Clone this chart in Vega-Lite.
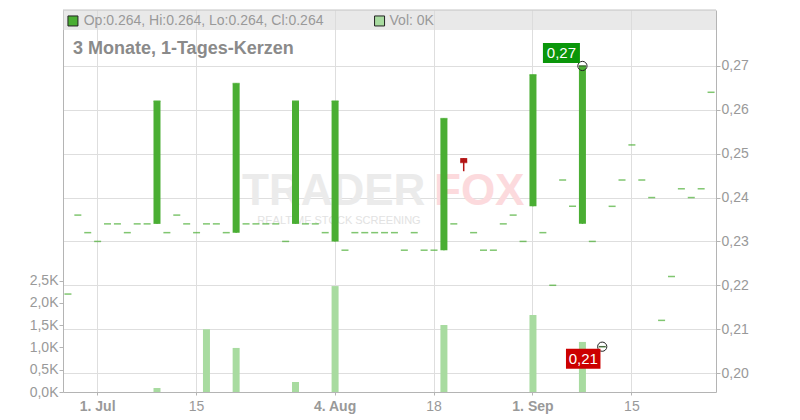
{
  "$schema": "https://vega.github.io/schema/vega-lite/v6.json",
  "width": 653,
  "height": 382,
  "autosize": {"type": "none"},
  "padding": {"left": 63, "top": 10, "right": 84, "bottom": 28},
  "background": "white",
  "config": {
    "view": {"stroke": null},
    "font": "Liberation Sans",
    "axis": {"labelColor": "#999999", "labelFontSize": 14, "labelFont": "Liberation Sans", "domainColor": "#b4b4b4", "tickColor": "#b4b4b4", "gridColor": "#dedede", "title": null}
  },
  "datasets": {
    "candles": [
      {"date": "2025-06-26", "open": 0.218, "high": 0.218, "low": 0.218, "close": 0.218, "volume": 0},
      {"date": "2025-06-27", "open": 0.236, "high": 0.236, "low": 0.236, "close": 0.236, "volume": 0},
      {"date": "2025-06-30", "open": 0.232, "high": 0.232, "low": 0.232, "close": 0.232, "volume": 0},
      {"date": "2025-07-01", "open": 0.230, "high": 0.230, "low": 0.230, "close": 0.230, "volume": 0},
      {"date": "2025-07-02", "open": 0.234, "high": 0.234, "low": 0.234, "close": 0.234, "volume": 0},
      {"date": "2025-07-03", "open": 0.234, "high": 0.234, "low": 0.234, "close": 0.234, "volume": 0},
      {"date": "2025-07-04", "open": 0.232, "high": 0.232, "low": 0.232, "close": 0.232, "volume": 0},
      {"date": "2025-07-07", "open": 0.234, "high": 0.234, "low": 0.234, "close": 0.234, "volume": 0},
      {"date": "2025-07-08", "open": 0.234, "high": 0.234, "low": 0.234, "close": 0.234, "volume": 0},
      {"date": "2025-07-09", "open": 0.234, "high": 0.262, "low": 0.234, "close": 0.262, "volume": 90},
      {"date": "2025-07-10", "open": 0.232, "high": 0.232, "low": 0.232, "close": 0.232, "volume": 0},
      {"date": "2025-07-11", "open": 0.236, "high": 0.236, "low": 0.236, "close": 0.236, "volume": 0},
      {"date": "2025-07-14", "open": 0.234, "high": 0.234, "low": 0.234, "close": 0.234, "volume": 0},
      {"date": "2025-07-15", "open": 0.232, "high": 0.232, "low": 0.232, "close": 0.232, "volume": 0},
      {"date": "2025-07-16", "open": 0.234, "high": 0.234, "low": 0.234, "close": 0.234, "volume": 1410},
      {"date": "2025-07-17", "open": 0.234, "high": 0.234, "low": 0.234, "close": 0.234, "volume": 0},
      {"date": "2025-07-18", "open": 0.232, "high": 0.232, "low": 0.232, "close": 0.232, "volume": 0},
      {"date": "2025-07-21", "open": 0.232, "high": 0.266, "low": 0.232, "close": 0.266, "volume": 990},
      {"date": "2025-07-22", "open": 0.234, "high": 0.234, "low": 0.234, "close": 0.234, "volume": 0},
      {"date": "2025-07-23", "open": 0.234, "high": 0.234, "low": 0.234, "close": 0.234, "volume": 0},
      {"date": "2025-07-24", "open": 0.234, "high": 0.234, "low": 0.234, "close": 0.234, "volume": 0},
      {"date": "2025-07-25", "open": 0.234, "high": 0.234, "low": 0.234, "close": 0.234, "volume": 0},
      {"date": "2025-07-28", "open": 0.230, "high": 0.230, "low": 0.230, "close": 0.230, "volume": 0},
      {"date": "2025-07-29", "open": 0.234, "high": 0.262, "low": 0.234, "close": 0.262, "volume": 225},
      {"date": "2025-07-30", "open": 0.234, "high": 0.234, "low": 0.234, "close": 0.234, "volume": 0},
      {"date": "2025-07-31", "open": 0.234, "high": 0.234, "low": 0.234, "close": 0.234, "volume": 0},
      {"date": "2025-08-01", "open": 0.232, "high": 0.232, "low": 0.232, "close": 0.232, "volume": 0},
      {"date": "2025-08-04", "open": 0.230, "high": 0.262, "low": 0.230, "close": 0.262, "volume": 2380},
      {"date": "2025-08-05", "open": 0.228, "high": 0.228, "low": 0.228, "close": 0.228, "volume": 0},
      {"date": "2025-08-06", "open": 0.232, "high": 0.232, "low": 0.232, "close": 0.232, "volume": 0},
      {"date": "2025-08-07", "open": 0.232, "high": 0.232, "low": 0.232, "close": 0.232, "volume": 0},
      {"date": "2025-08-08", "open": 0.232, "high": 0.232, "low": 0.232, "close": 0.232, "volume": 0},
      {"date": "2025-08-11", "open": 0.232, "high": 0.232, "low": 0.232, "close": 0.232, "volume": 0},
      {"date": "2025-08-12", "open": 0.232, "high": 0.232, "low": 0.232, "close": 0.232, "volume": 0},
      {"date": "2025-08-13", "open": 0.228, "high": 0.228, "low": 0.228, "close": 0.228, "volume": 0},
      {"date": "2025-08-14", "open": 0.232, "high": 0.232, "low": 0.232, "close": 0.232, "volume": 0},
      {"date": "2025-08-15", "open": 0.228, "high": 0.228, "low": 0.228, "close": 0.228, "volume": 0},
      {"date": "2025-08-18", "open": 0.228, "high": 0.228, "low": 0.228, "close": 0.228, "volume": 0},
      {"date": "2025-08-19", "open": 0.228, "high": 0.258, "low": 0.228, "close": 0.258, "volume": 1505},
      {"date": "2025-08-20", "open": 0.234, "high": 0.234, "low": 0.234, "close": 0.234, "volume": 0},
      {"date": "2025-08-21", "open": 0.249, "high": 0.249, "low": 0.246, "close": 0.248, "volume": 0},
      {"date": "2025-08-22", "open": 0.232, "high": 0.232, "low": 0.232, "close": 0.232, "volume": 0},
      {"date": "2025-08-25", "open": 0.228, "high": 0.228, "low": 0.228, "close": 0.228, "volume": 0},
      {"date": "2025-08-26", "open": 0.228, "high": 0.228, "low": 0.228, "close": 0.228, "volume": 0},
      {"date": "2025-08-27", "open": 0.234, "high": 0.234, "low": 0.234, "close": 0.234, "volume": 0},
      {"date": "2025-08-28", "open": 0.236, "high": 0.236, "low": 0.236, "close": 0.236, "volume": 0},
      {"date": "2025-08-29", "open": 0.230, "high": 0.230, "low": 0.230, "close": 0.230, "volume": 0},
      {"date": "2025-09-01", "open": 0.238, "high": 0.268, "low": 0.238, "close": 0.268, "volume": 1730},
      {"date": "2025-09-02", "open": 0.232, "high": 0.232, "low": 0.232, "close": 0.232, "volume": 0},
      {"date": "2025-09-03", "open": 0.220, "high": 0.220, "low": 0.220, "close": 0.220, "volume": 0},
      {"date": "2025-09-04", "open": 0.244, "high": 0.244, "low": 0.244, "close": 0.244, "volume": 0},
      {"date": "2025-09-05", "open": 0.238, "high": 0.238, "low": 0.238, "close": 0.238, "volume": 0},
      {"date": "2025-09-08", "open": 0.234, "high": 0.270, "low": 0.234, "close": 0.270, "volume": 1125},
      {"date": "2025-09-09", "open": 0.230, "high": 0.230, "low": 0.230, "close": 0.230, "volume": 0},
      {"date": "2025-09-10", "open": 0.206, "high": 0.206, "low": 0.206, "close": 0.206, "volume": 0},
      {"date": "2025-09-11", "open": 0.238, "high": 0.238, "low": 0.238, "close": 0.238, "volume": 0},
      {"date": "2025-09-12", "open": 0.244, "high": 0.244, "low": 0.244, "close": 0.244, "volume": 0},
      {"date": "2025-09-15", "open": 0.252, "high": 0.252, "low": 0.252, "close": 0.252, "volume": 0},
      {"date": "2025-09-16", "open": 0.244, "high": 0.244, "low": 0.244, "close": 0.244, "volume": 0},
      {"date": "2025-09-17", "open": 0.240, "high": 0.240, "low": 0.240, "close": 0.240, "volume": 0},
      {"date": "2025-09-18", "open": 0.212, "high": 0.212, "low": 0.212, "close": 0.212, "volume": 0},
      {"date": "2025-09-19", "open": 0.222, "high": 0.222, "low": 0.222, "close": 0.222, "volume": 0},
      {"date": "2025-09-22", "open": 0.242, "high": 0.242, "low": 0.242, "close": 0.242, "volume": 0},
      {"date": "2025-09-23", "open": 0.240, "high": 0.240, "low": 0.240, "close": 0.240, "volume": 0},
      {"date": "2025-09-24", "open": 0.242, "high": 0.242, "low": 0.242, "close": 0.242, "volume": 0},
      {"date": "2025-09-25", "open": 0.264, "high": 0.264, "low": 0.264, "close": 0.264, "volume": 0}
    ],
    "extremes": [
      {"date": "2025-09-08", "price": 0.270, "label": "0,27", "kind": "Hoch"},
      {"date": "2025-09-10", "price": 0.206, "label": "0,21", "kind": "Tief"}
    ],
    "one": [{}]
  },
  "layer": [
    {
      "data": {"name": "candles"},
      "mark": {"type": "bar", "width": 7, "color": "#a8dba0"},
      "encoding": {
        "x": {
          "field": "date", "type": "ordinal",
          "scale": {"type": "band", "paddingInner": 0, "paddingOuter": 0},
          "axis": {
            "values": ["2025-07-01", "2025-07-15", "2025-08-04", "2025-08-18", "2025-09-01", "2025-09-15"],
            "labelExpr": "{'2025-07-01': '1. Jul', '2025-07-15': '15', '2025-08-04': '4. Aug', '2025-08-18': '18', '2025-09-01': '1. Sep', '2025-09-15': '15'}[datum.value]",
            "labelFontWeight": {"condition": {"test": "indexof(['2025-07-01', '2025-08-04', '2025-09-01'], datum.value) >= 0", "value": "bold"}, "value": "normal"},
            "labelAngle": 0,
            "bandPosition": 0.5,
            "grid": true,
            "tickSize": 3,
            "labelPadding": 4,
            "title": null
          }
        },
        "y": {
          "field": "volume", "type": "quantitative",
          "scale": {"domain": [0, 8584], "nice": false},
          "axis": {
            "orient": "left",
            "values": [0, 500, 1000, 1500, 2000, 2500],
            "labelExpr": "replace(format(datum.value / 1000, '.1f'), '.', ',') + 'K'",
            "grid": false,
            "tickSize": 4,
            "labelPadding": 1,
            "title": null
          }
        }
      }
    },
    {
      "layer": [
        {
          "data": {"name": "one"},
          "mark": {"type": "rect", "color": "#dadada", "opacity": 0.6},
          "encoding": {
            "y": {"datum": 0.28276, "type": "quantitative", "scale": {"domain": [0.19567, 0.28276], "nice": false, "zero": false},
              "axis": {
                "orient": "right",
                "values": [0.20, 0.21, 0.22, 0.23, 0.24, 0.25, 0.26, 0.27],
                "labelExpr": "replace(format(datum.value, '.2f'), '.', ',')",
                "grid": true,
                "tickSize": 4,
                "labelPadding": 1,
                "title": null
              }
            },
            "y2": {"datum": 0.2782}
          }
        },
        {
          "data": {"name": "one"},
          "mark": {"type": "rule", "color": "#c4c4c4", "strokeWidth": 1},
          "encoding": {"y": {"datum": 0.28276, "type": "quantitative"}}
        },
        {
          "data": {"name": "one"},
          "mark": {"type": "text", "text": "TRADER", "font": "Liberation Sans", "fontWeight": "bold", "fontSize": 44, "align": "left", "baseline": "middle", "dx": -4, "color": "#ebebeb"},
          "encoding": {"x": {"datum": "2025-07-22", "type": "ordinal"}, "y": {"datum": 0.24127, "type": "quantitative"}}
        },
        {
          "data": {"name": "one"},
          "mark": {"type": "text", "text": "FOX", "font": "Liberation Sans", "fontWeight": "bold", "fontSize": 44, "align": "left", "baseline": "middle", "dx": 0, "color": "#fcdadd"},
          "encoding": {"x": {"datum": "2025-08-18", "type": "ordinal"}, "y": {"datum": 0.24127, "type": "quantitative"}}
        },
        {
          "data": {"name": "one"},
          "mark": {"type": "text", "text": "REALTIME STOCK SCREENING", "font": "Liberation Sans", "fontSize": 11, "align": "center", "baseline": "middle", "dx": -6, "color": "#e2e2e2"},
          "encoding": {"x": {"datum": "2025-08-05", "type": "ordinal"}, "y": {"datum": 0.23466, "type": "quantitative"}}
        },
        {
          "data": {"name": "candles"},
          "mark": {"type": "rule", "strokeWidth": 1.5},
          "encoding": {
            "x": {"field": "date", "type": "ordinal"},
            "y": {"field": "low", "type": "quantitative"},
            "y2": {"field": "high"},
            "color": {"condition": {"test": "datum.close < datum.open", "value": "#b31515"}, "value": "#4aae33"}
          }
        },
        {
          "data": {"name": "candles"},
          "mark": {"type": "bar", "width": 7},
          "encoding": {
            "x": {"field": "date", "type": "ordinal"},
            "y": {"field": "open", "type": "quantitative"},
            "y2": {"field": "close"},
            "color": {"condition": {"test": "datum.close < datum.open", "value": "#b31515"}, "value": "#4aae33"}
          }
        },
        {
          "data": {"name": "candles"},
          "mark": {"type": "tick", "size": 7, "thickness": 1.5},
          "encoding": {
            "x": {"field": "date", "type": "ordinal"},
            "y": {"field": "close", "type": "quantitative"},
            "color": {"condition": {"test": "datum.close < datum.open", "value": "#b31515"}, "value": "#4aae33"}
          }
        },
        {
          "data": {"name": "extremes"},
          "mark": {"type": "point", "shape": "circle", "size": 85, "filled": false, "stroke": "#222222", "strokeWidth": 1, "opacity": 1},
          "encoding": {
            "x": {"field": "date", "type": "ordinal"},
            "y": {"field": "price", "type": "quantitative"}
          }
        },
        {
          "data": {"name": "extremes"},
          "mark": {"type": "tick", "size": 7, "thickness": 1, "color": "#222222"},
          "encoding": {
            "x": {"field": "date", "type": "ordinal"},
            "y": {"field": "price", "type": "quantitative"}
          }
        },
        {
          "data": {"name": "extremes"},
          "transform": [{"filter": "datum.kind == 'Hoch'"}],
          "mark": {"type": "point", "shape": "M-1,-0.54L1,-0.54L1,0.54L-1,0.54Z", "size": 1369, "filled": true, "color": "#0a960a", "opacity": 1, "strokeWidth": 0, "xOffset": -21, "yOffset": -13},
          "encoding": {
            "x": {"field": "date", "type": "ordinal"},
            "y": {"field": "price", "type": "quantitative"}
          }
        },
        {
          "data": {"name": "extremes"},
          "transform": [{"filter": "datum.kind == 'Hoch'"}],
          "mark": {"type": "text", "color": "white", "fontSize": 15, "align": "center", "baseline": "middle", "xOffset": -21, "yOffset": -13},
          "encoding": {
            "x": {"field": "date", "type": "ordinal"},
            "y": {"field": "price", "type": "quantitative"},
            "text": {"field": "label"}
          }
        },
        {
          "data": {"name": "extremes"},
          "transform": [{"filter": "datum.kind == 'Tief'"}],
          "mark": {"type": "point", "shape": "M-1,-0.58L1,-0.58L1,0.58L-1,0.58Z", "size": 1190, "filled": true, "color": "#cc0000", "opacity": 1, "strokeWidth": 0, "xOffset": -19, "yOffset": 12},
          "encoding": {
            "x": {"field": "date", "type": "ordinal"},
            "y": {"field": "price", "type": "quantitative"}
          }
        },
        {
          "data": {"name": "extremes"},
          "transform": [{"filter": "datum.kind == 'Tief'"}],
          "mark": {"type": "text", "color": "white", "fontSize": 15, "align": "center", "baseline": "middle", "xOffset": -19, "yOffset": 12},
          "encoding": {
            "x": {"field": "date", "type": "ordinal"},
            "y": {"field": "price", "type": "quantitative"},
            "text": {"field": "label"}
          }
        },
        {
          "data": {"name": "one"},
          "mark": {"type": "point", "shape": "square", "size": 100, "filled": true, "color": "#4aae33", "stroke": "#222222", "strokeWidth": 1, "opacity": 1, "xOffset": 5},
          "encoding": {"x": {"datum": "2025-06-26", "type": "ordinal"}, "y": {"datum": 0.28026, "type": "quantitative"}}
        },
        {
          "data": {"name": "one"},
          "mark": {"type": "text", "text": "Op:0.264, Hi:0.264, Lo:0.264, Cl:0.264", "fontSize": 14, "align": "left", "baseline": "middle", "dx": -4, "color": "#999999"},
          "encoding": {"x": {"datum": "2025-06-30", "type": "ordinal"}, "y": {"datum": 0.28026, "type": "quantitative"}}
        },
        {
          "data": {"name": "one"},
          "mark": {"type": "point", "shape": "square", "size": 100, "filled": true, "color": "#a8dba0", "stroke": "#222222", "strokeWidth": 1, "opacity": 1, "xOffset": -5},
          "encoding": {"x": {"datum": "2025-08-11", "type": "ordinal"}, "y": {"datum": 0.28026, "type": "quantitative"}}
        },
        {
          "data": {"name": "one"},
          "mark": {"type": "text", "text": "Vol: 0K", "fontSize": 14, "align": "left", "baseline": "middle", "dx": 5, "color": "#999999"},
          "encoding": {"x": {"datum": "2025-08-11", "type": "ordinal"}, "y": {"datum": 0.28026, "type": "quantitative"}}
        },
        {
          "data": {"name": "one"},
          "mark": {"type": "text", "text": "3 Monate, 1-Tages-Kerzen", "fontSize": 18, "fontWeight": "bold", "align": "left", "baseline": "alphabetic", "dx": 5, "color": "#8a8a8a"},
          "encoding": {"x": {"datum": "2025-06-26", "type": "ordinal"}, "y": {"datum": 0.27266, "type": "quantitative"}}
        }
      ]
    }
  ],
  "resolve": {"scale": {"y": "independent"}}
}
